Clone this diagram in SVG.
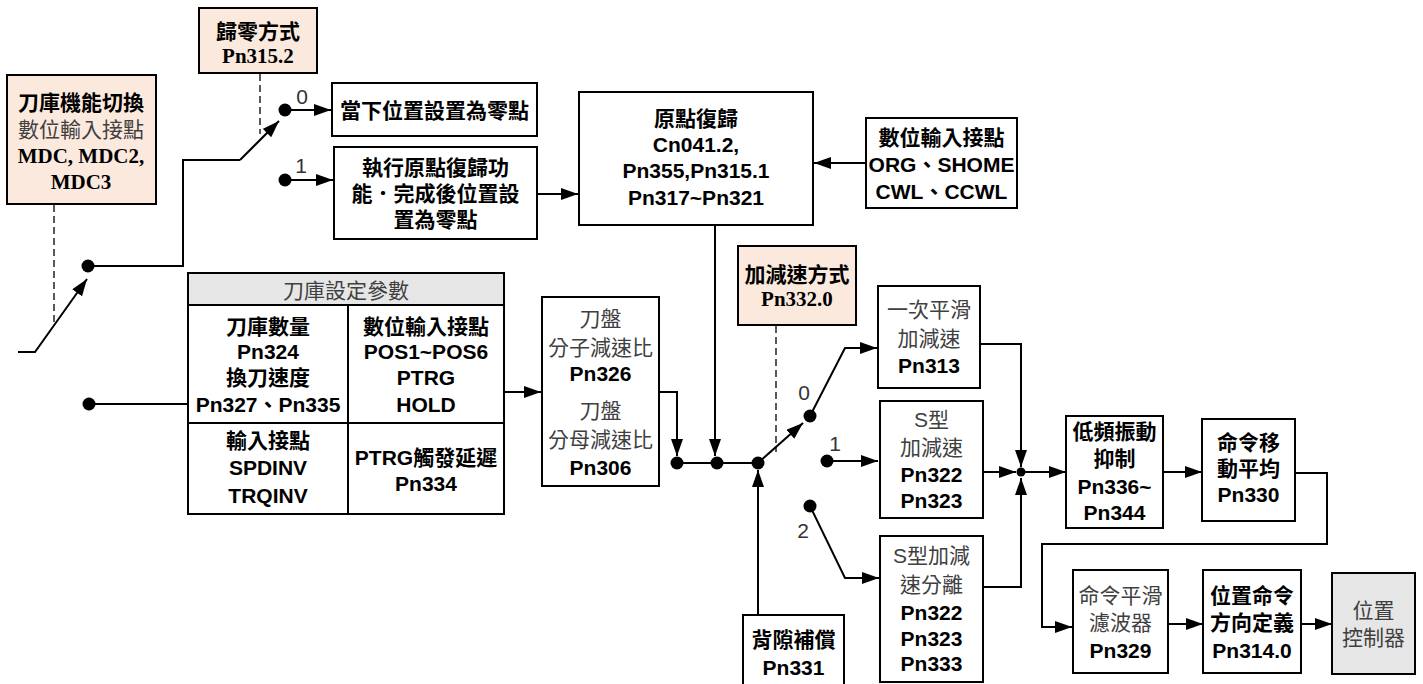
<svg xmlns="http://www.w3.org/2000/svg" width="1423" height="684" viewBox="0 0 1423 684">
<defs>
<marker id="ar" markerWidth="17" markerHeight="12" refX="17" refY="6" orient="auto" markerUnits="userSpaceOnUse"><path d="M0,0 L17,6 L0,12 z" fill="#000"/></marker>
<style>
.box{fill:#fff;stroke:#000;stroke-width:2}
.peach{fill:#fce9dd;stroke:#000;stroke-width:2}
.grayf{fill:#e6e6e6;stroke:#000;stroke-width:2}
text{font-family:"Liberation Sans","Noto Sans CJK TC",sans-serif;font-size:21px;text-anchor:middle;dominant-baseline:central}
.b{font-weight:bold;fill:#000}
.n{font-weight:normal;fill:#404040}
.s{font-family:"Liberation Serif","Noto Sans CJK TC",serif;font-weight:bold;fill:#000}
.ln{stroke:#000;stroke-width:2;fill:none}
.arr{stroke:#000;stroke-width:2;fill:none;marker-end:url(#ar)}
.dash{stroke:#000;stroke-width:1.3;stroke-dasharray:7,4;fill:none}
.lbl{font-size:21px;fill:#333;font-weight:normal}
.dot{fill:#000}
</style>
</defs>
<rect width="1423" height="684" fill="#fff"/>

<g id="connectors">
<path class="dash" d="M54,205 V322"/>
<path class="dash" d="M260,74 V134"/>
<path class="dash" d="M776,326 V452"/>
<path class="arr" d="M18,352 H35 L87,279"/>
<path class="ln" d="M88,266 H183 V160 H240"/>
<path class="arr" d="M240,160 L279,121"/>
<path class="arr" d="M285,110 H331"/>
<path class="arr" d="M285,180 H333"/>
<path class="arr" d="M537,194 H578"/>
<path class="arr" d="M866,163 H814"/>
<path class="arr" d="M715,225 V456"/>
<path class="ln" d="M89,404 H188"/>
<path class="arr" d="M504,392 H541"/>
<path class="arr" d="M542,392 H677 V456"/>
<path class="ln" d="M677,463 H758"/>
<path class="arr" d="M758,463 L803,423"/>
<path class="arr" d="M810,416 L845,348 H877"/>
<path class="arr" d="M827,461 H878"/>
<path class="arr" d="M810,506 L845,578 H879"/>
<path class="arr" d="M758,615 V470"/>
<path class="arr" d="M980,344 H1021 V467"/>
<path class="arr" d="M983,472 H1016"/>
<path class="arr" d="M983,587 H1021 V478"/>
<path class="arr" d="M1021,472 H1066"/>
<path class="arr" d="M1163,472 H1202"/>
<path class="arr" d="M1295,473 H1327 V544 H1042 V627 H1072"/>
<path class="arr" d="M1168,624 H1203"/>
<path class="arr" d="M1301,624 H1332"/>
<circle class="dot" cx="88" cy="266" r="6.5"/>
<circle class="dot" cx="285" cy="110" r="6.5"/>
<circle class="dot" cx="285" cy="180" r="6.5"/>
<circle class="dot" cx="89" cy="404" r="6.5"/>
<circle class="dot" cx="677" cy="463" r="6.5"/>
<circle class="dot" cx="717" cy="463" r="6.5"/>
<circle class="dot" cx="758" cy="463" r="6.5"/>
<circle class="dot" cx="810" cy="416" r="6.5"/>
<circle class="dot" cx="827" cy="461" r="6.5"/>
<circle class="dot" cx="810" cy="506" r="6.5"/>
<circle class="dot" cx="1021" cy="472" r="4.5"/>
<text class="lbl" x="302" y="96">0</text>
<text class="lbl" x="301" y="165">1</text>
<text class="lbl" x="804" y="392">0</text>
<text class="lbl" x="835" y="443">1</text>
<text class="lbl" x="803" y="530">2</text>
</g>

<g id="mdc">
<rect class="peach" x="7" y="75" width="149" height="129"/>
<text class="b" x="81" y="102">刀庫機能切換</text>
<text class="n" x="81" y="129">數位輸入接點</text>
<text class="s" x="81" y="156">MDC, MDC2,</text>
<text class="s" x="81" y="182">MDC3</text>
</g>

<g id="homing-mode">
<rect class="peach" x="199" y="8" width="118" height="65"/>
<text class="b" x="258" y="31">歸零方式</text>
<text class="s" x="258" y="56">Pn315.2</text>
</g>

<g id="set-zero">
<rect class="box" x="332" y="83" width="205" height="53"/>
<text class="b" x="434.5" y="110">當下位置設置為零點</text>
</g>

<g id="do-homing">
<rect class="box" x="334" y="147" width="203" height="92"/>
<text class="b" x="435.5" y="167">執行原點復歸功</text>
<text class="b" x="435.5" y="193">能．完成後位置設</text>
<text class="b" x="435.5" y="219">置為零點</text>
</g>

<g id="homing">
<rect class="box" x="579" y="92" width="234" height="133"/>
<text class="b" x="696" y="118">原點復歸</text>
<text class="b" x="696" y="144">Cn041.2,</text>
<text class="b" x="696" y="170">Pn355,Pn315.1</text>
<text class="b" x="696" y="197">Pn317~Pn321</text>
</g>

<g id="di-homing">
<rect class="box" x="866" y="118" width="151" height="90"/>
<text class="b" x="941.5" y="137">數位輸入接點</text>
<text class="b" x="941.5" y="164">ORG、SHOME</text>
<text class="b" x="941.5" y="191">CWL、CCWL</text>
</g>

<g id="param-table">
<rect class="box" x="188" y="273" width="316" height="241"/>
<rect class="grayf" x="188" y="273" width="316" height="32"/>
<path class="ln" d="M188,423 H504 M348,305 V514"/>
<text class="n" x="346" y="290">刀庫設定參數</text>
<text class="b" x="268" y="326">刀庫數量</text>
<text class="b" x="268" y="351">Pn324</text>
<text class="b" x="268" y="377">換刀速度</text>
<text class="b" x="268" y="404">Pn327、Pn335</text>
<text class="b" x="426" y="326">數位輸入接點</text>
<text class="b" x="426" y="351">POS1~POS6</text>
<text class="b" x="426" y="377">PTRG</text>
<text class="b" x="426" y="404">HOLD</text>
<text class="b" x="268" y="440">輸入接點</text>
<text class="b" x="268" y="467">SPDINV</text>
<text class="b" x="268" y="495">TRQINV</text>
<text class="b" x="426" y="457">PTRG觸發延遲</text>
<text class="b" x="426" y="483">Pn334</text>
</g>

<g id="gear-ratio">
<rect class="box" x="542" y="297" width="117" height="189"/>
<text class="n" x="600.5" y="318">刀盤</text>
<text class="n" x="600.5" y="347">分子減速比</text>
<text class="b" x="600.5" y="373">Pn326</text>
<text class="n" x="600.5" y="410">刀盤</text>
<text class="n" x="600.5" y="439">分母減速比</text>
<text class="b" x="600.5" y="467">Pn306</text>
</g>

<g id="accel-mode">
<rect class="peach" x="738" y="246" width="118" height="79"/>
<text class="b" x="797" y="274">加減速方式</text>
<text class="s" x="797" y="299">Pn332.0</text>
</g>

<g id="backlash">
<rect class="box" x="743" y="615" width="101" height="80"/>
<text class="b" x="793.5" y="639">背隙補償</text>
<text class="b" x="793.5" y="667">Pn331</text>
</g>

<g id="first-order">
<rect class="box" x="878" y="286" width="102" height="102"/>
<text class="n" x="929" y="309">一次平滑</text>
<text class="n" x="929" y="338">加減速</text>
<text class="b" x="929" y="365">Pn313</text>
</g>

<g id="s-curve">
<rect class="box" x="880" y="401" width="103" height="117"/>
<text class="n" x="931.5" y="419">S型</text>
<text class="n" x="931.5" y="447">加減速</text>
<text class="b" x="931.5" y="474">Pn322</text>
<text class="b" x="931.5" y="500">Pn323</text>
</g>

<g id="s-curve-sep">
<rect class="box" x="880" y="536" width="103" height="146"/>
<text class="n" x="931.5" y="555">S型加減</text>
<text class="n" x="931.5" y="584">速分離</text>
<text class="b" x="931.5" y="612">Pn322</text>
<text class="b" x="931.5" y="638">Pn323</text>
<text class="b" x="931.5" y="663">Pn333</text>
</g>

<g id="vibration">
<rect class="box" x="1066" y="416" width="97" height="112"/>
<text class="b" x="1114.5" y="431">低頻振動</text>
<text class="b" x="1114.5" y="458">抑制</text>
<text class="b" x="1114.5" y="486">Pn336~</text>
<text class="b" x="1114.5" y="512">Pn344</text>
</g>

<g id="moving-avg">
<rect class="box" x="1202" y="419" width="93" height="102"/>
<text class="b" x="1248.5" y="442">命令移</text>
<text class="b" x="1248.5" y="468">動平均</text>
<text class="b" x="1248.5" y="494">Pn330</text>
</g>

<g id="smooth-filter">
<rect class="box" x="1073" y="570" width="95" height="103"/>
<text class="n" x="1120.5" y="595">命令平滑</text>
<text class="n" x="1120.5" y="622">濾波器</text>
<text class="b" x="1120.5" y="650">Pn329</text>
</g>

<g id="direction">
<rect class="box" x="1203" y="570" width="98" height="103"/>
<text class="b" x="1252" y="595">位置命令</text>
<text class="b" x="1252" y="622">方向定義</text>
<text class="b" x="1252" y="650">Pn314.0</text>
</g>

<g id="pos-ctrl">
<rect class="grayf" x="1332" y="573" width="83" height="101"/>
<text class="n" x="1373.5" y="610">位置</text>
<text class="n" x="1373.5" y="637">控制器</text>
</g>
</svg>
